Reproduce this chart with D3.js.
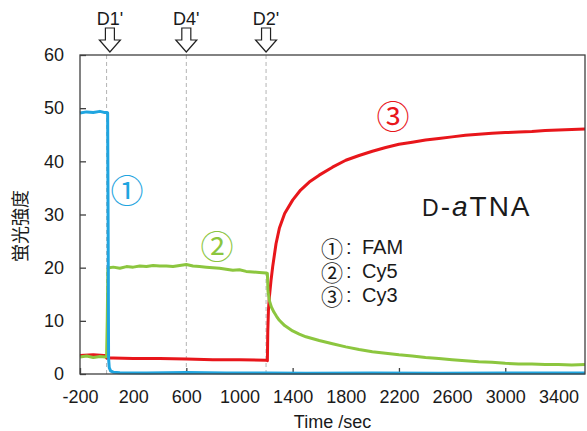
<!DOCTYPE html>
<html>
<head>
<meta charset="utf-8">
<script src="https://cdn.jsdelivr.net/npm/d3@7"></script>
<style>
  body { margin: 0; background: #fff; }
  text { font-family: "Liberation Sans", Arial, sans-serif; fill: #1a1a1a; }
  .jp { font-family: "Noto Sans CJK JP", sans-serif; }
</style>
</head>
<body>
<svg id="chart" width="587" height="431"></svg>
<script>
// ① FAM (blue)
const famTime  = [-200, -150, -100, -50, -20, 0, 8, 12, 15, 20, 30, 50, 100, 300, 600, 900, 1200, 1500, 2000, 2500, 3000, 3600];
const famValue = [49.1, 49.3, 49.2, 49.4, 49.2, 49.2, 49.1, 25, 3, 1.2, 0.6, 0.35, 0.25, 0.2, 0.3, 0.2, 0.2, 0.15, 0.2, 0.15, 0.2, 0.2];

// ② Cy5 (green)
const cy5Time  = [-200, -150, -100, -50, -10, 0, 5, 10, 20, 50, 100, 150, 200, 250, 300, 350, 400, 450, 500, 550, 600, 650, 700, 750, 800, 850, 900, 950, 1000, 1050, 1100, 1150, 1200, 1210,
                  1215, 1225, 1240, 1260, 1280, 1300, 1340, 1400, 1450, 1500, 1600, 1700, 1800, 1900, 2000, 2100, 2200, 2300, 2400, 2500, 2600, 2700, 2800, 2900, 3000, 3100, 3200, 3300, 3400, 3500, 3600];
const cy5Value = [3.2, 3.4, 3.1, 3.3, 3.2, 3.3, 10, 19.8, 20.0, 20.1, 19.9, 20.2, 20.1, 20.3, 20.2, 20.4, 20.3, 20.3, 20.2, 20.4, 20.6, 20.3, 20.2, 20.1, 20.0, 19.9, 19.7, 19.5, 19.6, 19.3, 19.2, 19.1, 19.0, 18.9,
                  15.5, 13.8, 12.6, 11.6, 10.8, 10.1, 9.1, 8.1, 7.5, 7.0, 6.3, 5.7, 5.1, 4.6, 4.2, 3.9, 3.6, 3.4, 3.1, 2.9, 2.7, 2.5, 2.3, 2.2, 2.0, 1.9, 1.9, 1.8, 1.8, 1.7, 1.8];

// ③ Cy3 (red)
const cy3Time  = [-200, -100, -20, -5, 0, 50, 200, 400, 600, 800, 1000, 1200, 1210, 1213, 1218, 1225, 1237, 1250, 1275, 1300, 1340, 1400, 1460, 1525, 1600, 1700, 1800, 1900, 2000,
                  2100, 2200, 2300, 2400, 2500, 2600, 2700, 2800, 2900, 3000, 3100, 3200, 3300, 3400, 3500, 3600];
const cy3Value = [3.5, 3.6, 3.5, 3.5, 3.0, 3.0, 2.9, 2.9, 2.8, 2.7, 2.7, 2.6, 2.5, 8, 12, 14.5, 17.5, 20.2, 24.5, 27.4, 30.2, 32.7, 34.6, 36.1, 37.4, 38.9, 40.2, 41.1, 41.9,
                  42.6, 43.2, 43.6, 44.0, 44.3, 44.6, 44.9, 45.1, 45.3, 45.4, 45.5, 45.6, 45.8, 45.9, 46.0, 46.1];

const xLabelTicks = [-200, 200, 600, 1000, 1400, 1800, 2200, 2600, 3000, 3400];
const xMarkTicks  = [-200, 600, 1400, 2200, 3000];
const yTicks      = [0, 10, 20, 30, 40, 50, 60];

const markerNames = ["D1'", "D4'", "D2'"];
const markerTimes = [0, 600, 1200];
const arrowTimes  = [25, 600, 1200];

const seriesNames = ["FAM", "Cy5", "Cy3"];
const circled     = ["①", "②", "③"];
const colors      = ["#1fa5e0", "#8cc63f", "#e8161b"];

const svg = d3.select("#chart");
const margin = { top: 55, right: 2, bottom: 57, left: 80 };
const width = 587 - margin.left - margin.right;
const height = 431 - margin.top - margin.bottom;

const chart = svg.append("g").attr("transform", `translate(${margin.left},${margin.top})`);

const x = d3.scaleLinear().domain([-200, 3600]).range([0, width]);
const y = d3.scaleLinear().domain([0, 60]).range([height, 0]);

// dashed guide lines at each addition
chart.selectAll(".guide")
  .data(markerTimes)
  .enter().append("line")
  .attr("class", "guide")
  .attr("x1", d => x(d)).attr("x2", d => x(d))
  .attr("y1", 0).attr("y2", height)
  .attr("stroke", "#b4b4b4")
  .attr("stroke-width", 1)
  .attr("stroke-dasharray", "4,3");

// y axis (ticks inside)
const yAxis = chart.append("g")
  .call(d3.axisLeft(y).tickValues(yTicks).tickSizeInner(-6).tickSizeOuter(0).tickPadding(16).tickFormat(d => String(d)));
yAxis.select(".domain").remove();
yAxis.selectAll("line").attr("stroke", "#404040").attr("stroke-width", 1.3);
yAxis.selectAll("text").attr("font-size", 18).attr("fill", "#1a1a1a")
  .style("font-family", "'Liberation Sans', Arial, sans-serif");

// x axis labels
const xAxis = chart.append("g")
  .attr("transform", `translate(0,${height})`)
  .call(d3.axisBottom(x).tickValues(xLabelTicks).tickSize(0).tickPadding(16).tickFormat(d => String(d)));
xAxis.select(".domain").remove();
xAxis.selectAll("text").attr("font-size", 18).attr("fill", "#1a1a1a")
  .style("font-family", "'Liberation Sans', Arial, sans-serif");

// x tick marks (every 800, pointing up)
const xMarks = chart.append("g")
  .attr("transform", `translate(0,${height})`)
  .call(d3.axisBottom(x).tickValues(xMarkTicks).tickSizeInner(-6).tickSizeOuter(0).tickFormat(""));
xMarks.select(".domain").remove();
xMarks.selectAll("line").attr("stroke", "#404040").attr("stroke-width", 1.3);

// series
const line = d3.line().x(d => x(d[0])).y(d => y(d[1]));
const series = [
  d3.zip(famTime, famValue),
  d3.zip(cy5Time, cy5Value),
  d3.zip(cy3Time, cy3Value)
];
[2, 1, 0].forEach(i => {
  chart.append("path")
    .datum(series[i])
    .attr("fill", "none")
    .attr("stroke", colors[i])
    .attr("stroke-width", 3)
    .attr("stroke-linejoin", "round")
    .attr("d", line);
});

// frame
chart.append("rect")
  .attr("x", 0).attr("y", 0)
  .attr("width", width).attr("height", height)
  .attr("fill", "none")
  .attr("stroke", "#404040")
  .attr("stroke-width", 1.3);

// axis titles
svg.append("text")
  .attr("class", "jp")
  .attr("transform", "translate(22,226) rotate(-90)")
  .attr("text-anchor", "middle")
  .attr("dominant-baseline", "middle")
  .attr("font-size", 18)
  .text("蛍光強度");

svg.append("text")
  .attr("x", margin.left + width / 2)
  .attr("y", 428)
  .attr("text-anchor", "middle")
  .attr("font-size", 18)
  .text("Time /sec");

// addition arrows on top
const arrow = cx => `M${cx - 4.5},28 H${cx + 4.5} V40 H${cx + 10.5} L${cx},52 L${cx - 10.5},40 H${cx - 4.5} Z`;
svg.selectAll(".arrow")
  .data(arrowTimes)
  .enter().append("path")
  .attr("class", "arrow")
  .attr("d", d => arrow(margin.left + x(d)))
  .attr("fill", "#fff")
  .attr("stroke", "#222")
  .attr("stroke-width", 1.2);

svg.selectAll(".marker")
  .data(markerNames)
  .enter().append("text")
  .attr("class", "marker")
  .attr("x", (d, i) => margin.left + x(arrowTimes[i]))
  .attr("y", 25)
  .attr("text-anchor", "middle")
  .attr("font-size", 18)
  .text(d => d);

// circled curve labels
const labelPos = [[127, 189], [217, 245], [393, 115]];
svg.selectAll(".curve-label")
  .data(circled)
  .enter().append("text")
  .attr("class", "curve-label jp")
  .attr("x", (d, i) => labelPos[i][0])
  .attr("y", (d, i) => labelPos[i][1])
  .attr("text-anchor", "middle")
  .attr("dominant-baseline", "central")
  .attr("font-size", 33)
  .style("fill", (d, i) => colors[i])
  .text(d => d);

// legend
seriesNames.forEach((name, i) => {
  const yy = 254 + i * 24;
  svg.append("text").attr("class", "jp").attr("x", 332).attr("y", yy - 7)
    .attr("text-anchor", "middle").attr("dominant-baseline", "central")
    .attr("font-size", 22).text(circled[i]);
  svg.append("text").attr("x", 346).attr("y", yy).attr("font-size", 20).text(":");
  svg.append("text").attr("x", 362).attr("y", yy).attr("font-size", 20).text(name);
});

// D-aTNA
const title = svg.append("text").attr("x", 422).attr("y", 216).attr("font-size", 28).attr("letter-spacing", 2);
title.append("tspan").attr("font-size", 23).text("D");
title.append("tspan").text("-");
title.append("tspan").attr("font-style", "italic").text("a");
title.append("tspan").text("TNA");
</script>
</body>
</html>
